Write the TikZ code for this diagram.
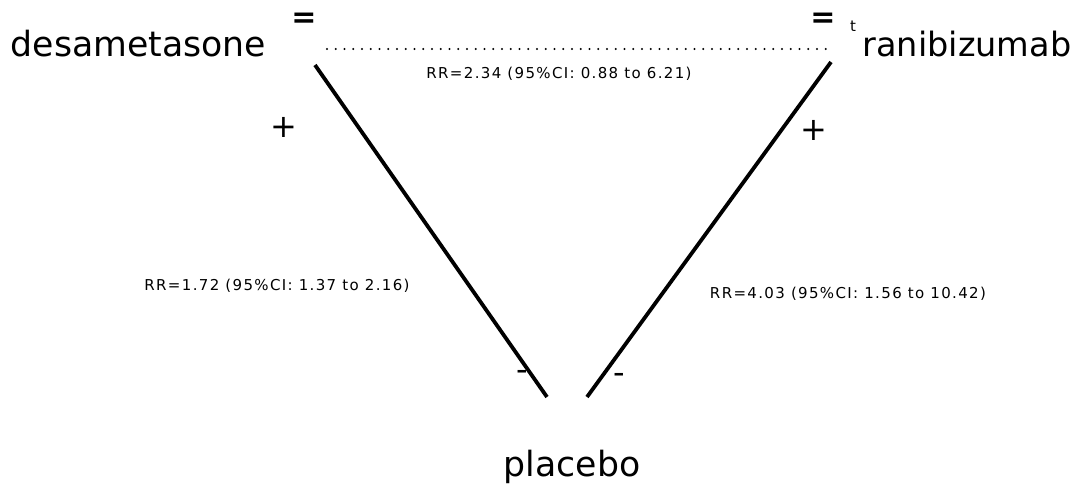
\documentclass[tikz,border=0pt]{standalone}
\usepackage{fontspec}
\setmainfont{DejaVu Sans}
\usepackage{tikz}

\tikzset{
  drug/.style={font=\fontsize{34.7}{35}\selectfont, inner sep=0pt, anchor=base},
  rrlabel/.style={font=\fontsize{15}{15}\selectfont\addfontfeature{LetterSpace=9}, inner sep=0pt, anchor=base},
  sign/.style={font=\fontsize{32}{32}\selectfont, inner sep=0pt},
  arm/.style={line width=3.8pt},
}

\begin{document}
\begin{tikzpicture}[x=1pt, y=-1pt]
    \useasboundingbox (0,0) rectangle (1082,488);

    % treatments
    \node[drug] (desa) at (138.5,56) {desametasone};
    \node[drug, font=\fontsize{33.5}{34}\selectfont] (rani) at (967,56) {ranibizumab};
    \node[drug] (plac) at (572,476) {placebo};

    % end points of the arms
    \coordinate (desaL) at (315,65);
    \coordinate (placL) at (547,397);
    \coordinate (raniR) at (831,62);
    \coordinate (placR) at (587,397);
    \coordinate (desaT) at (327,49);
    \coordinate (raniT) at (827,49);

    % desametasone vs ranibizumab (top)
    \draw[line width=2.2pt, line cap=round, dash pattern=on 0pt off 8.75pt] (desaT) -- (raniT);
    \node[rrlabel] (rrtop) at (559,78) {RR=2.34 (95\%CI: 0.88 to 6.21)};
    \node[sign, font=\fontsize{30}{30}\selectfont\bfseries] (eqL) at (304,20) {=};
    \node[sign, font=\fontsize{30}{30}\selectfont\bfseries] (eqR) at (823,20) {=};
    \node[font=\fontsize{15}{15}\selectfont, inner sep=0pt, anchor=base] (tR) at (853,31) {t};

    % desametasone vs placebo (left)
    \draw[arm] (desaL) -- (placL);
    \node[rrlabel] (rrleft) at (277,290) {RR=1.72 (95\%CI: 1.37 to 2.16)};
    \node[sign] (plusL) at (284,127) {+};
    \node[sign] (minL) at (522,375) {-};

    % ranibizumab vs placebo (right)
    \draw[arm] (raniR) -- (placR);
    \node[rrlabel] (rrright) at (848,298) {RR=4.03 (95\%CI: 1.56 to 10.42)};
    \node[sign] (plusR) at (814,130) {+};
    \node[sign] (minR) at (619,378) {-};
\end{tikzpicture}
\end{document}
